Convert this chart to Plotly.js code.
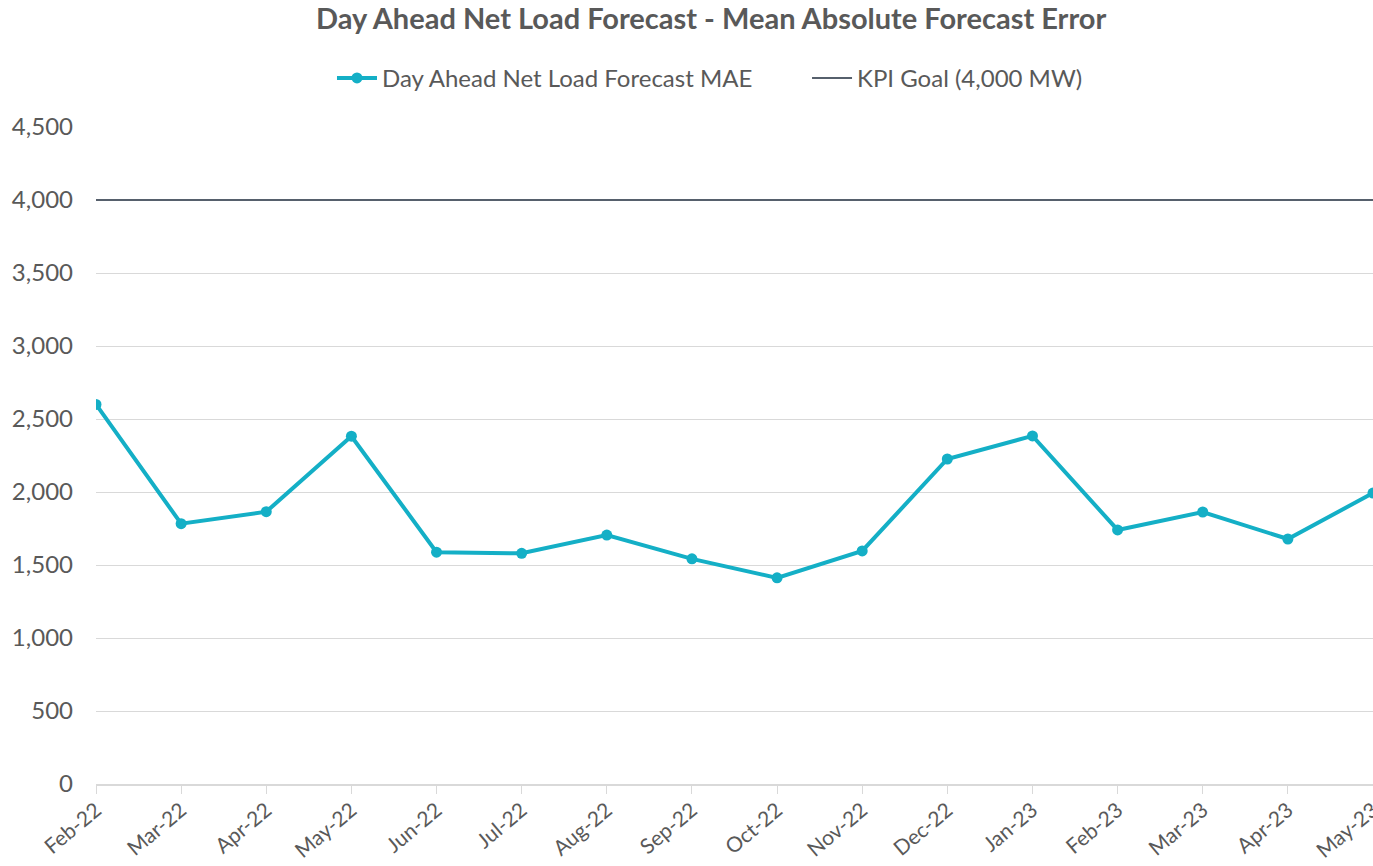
<!DOCTYPE html>
<html>
<head>
<meta charset="utf-8">
<script src="https://cdn.plot.ly/plotly-3.0.1.min.js"></script>
<style>html,body{margin:0;padding:0;background:#fff;}#chart{width:1373px;height:866px;}</style>
</head>
<body>
<div id="chart"></div>
<script>
const months = ["Feb-22","Mar-22","Apr-22","May-22","Jun-22","Jul-22","Aug-22","Sep-22","Oct-22","Nov-22","Dec-22","Jan-23","Feb-23","Mar-23","Apr-23","May-23"];
const maeValues = [2600, 1783, 1865, 2382, 1588, 1580, 1705, 1542, 1412, 1596, 2226, 2384, 1740, 1863, 1678, 1993];
const kpiGoal = [4000, 4000, 4000, 4000, 4000, 4000, 4000, 4000, 4000, 4000, 4000, 4000, 4000, 4000, 4000, 4000];
const yTicks = [0, 500, 1000, 1500, 2000, 2500, 3000, 3500, 4000, 4500];

const fontFam = "Lato, 'Open Sans', sans-serif";
const textColor = "#595959";

const traces = [
  {
    x: months, y: maeValues, type: "scatter", mode: "lines+markers",
    name: "Day Ahead Net Load Forecast MAE",
    line: {color: "#14AFC6", width: 4},
    marker: {color: "#14AFC6", size: 11},
    cliponaxis: true, legend: "legend"
  },
  {
    x: months, y: kpiGoal, type: "scatter", mode: "lines",
    name: "KPI Goal (4,000 MW)",
    line: {color: "#56606C", width: 2.2},
    legend: "legend2"
  }
];

const legendBase = {
  orientation: "h", xanchor: "left", y: 1.074, yanchor: "middle",
  font: {family: fontFam, size: 24, color: textColor},
  itemwidth: 40, bgcolor: "rgba(0,0,0,0)"
};

const layout = {
  width: 1373, height: 866,
  paper_bgcolor: "#fff", plot_bgcolor: "#fff",
  margin: {l: 96, r: 0, t: 127, b: 82},
  font: {family: fontFam, color: textColor, size: 23},
  title: {
    text: "<b>Day Ahead Net Load Forecast - Mean Absolute Forecast Error</b>",
    font: {family: fontFam, size: 29, color: textColor},
    x: 0.518, xref: "container", xanchor: "center", y: 0.978, yref: "container", yanchor: "middle"
  },
  showlegend: true,
  legend: Object.assign({}, legendBase, {x: 0.1848}),
  legend2: Object.assign({}, legendBase, {x: 0.5568}),
  xaxis: {
    type: "category", categoryorder: "array", categoryarray: months,
    range: [0, 15], showgrid: false, zeroline: false, automargin: false,
    showline: true, linecolor: "#D9D9D9", linewidth: 1.5,
    ticks: "outside", ticklen: 8, tickcolor: "#D9D9D9", tickwidth: 1,
    ticklabelstandoff: -4,
    tickangle: -40, tickfont: {family: fontFam, size: 21, color: textColor}
  },
  yaxis: {
    range: [0, 4500], tickvals: yTicks, tickformat: ",d", automargin: false,
    showgrid: true, gridcolor: "#D9D9D9", gridwidth: 1,
    zeroline: false, showline: false, ticks: "",
    ticklabelstandoff: 22,
    tickfont: {family: fontFam, size: 24, color: textColor}
  }
};

Plotly.newPlot("chart", traces, layout, {displayModeBar: false, responsive: false});
</script>
</body>
</html>
